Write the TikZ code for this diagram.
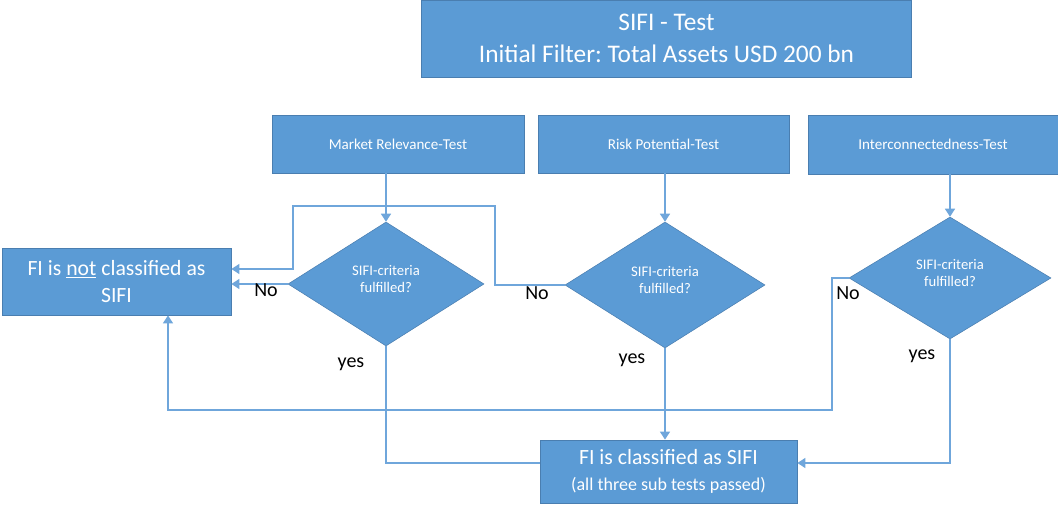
\documentclass[tikz,border=0pt]{standalone}
\usepackage{fontspec}
\setmainfont{Carlito}
\frenchspacing
\usetikzlibrary{arrows.meta,shapes.geometric}
\definecolor{boxfill}{HTML}{5B9BD5}
\definecolor{boxline}{HTML}{4A7EB0}
\definecolor{conn}{HTML}{6FA6DB}
\tikzset{
  bluebox/.style={draw=boxline, line width=0.6pt, fill=boxfill, text=white, align=center, inner sep=0pt},
  decision/.style={diamond, draw=boxline, line width=0.4pt, fill=boxfill, inner sep=0pt},
  dtext/.style={text=white, align=center, inner sep=0pt, font=\fontsize{11}{13}\selectfont},
  link/.style={draw=conn, line width=1.1pt},
  arr/.style={link, -{Triangle[length=6pt,width=7.5pt]}},
  lbl/.style={text=black, font=\fontsize{15}{17}\selectfont, inner sep=0pt}
}
\begin{document}
\begin{tikzpicture}[x=0.75pt,y=-0.75pt]
\useasboundingbox (0,0) rectangle (1058,505);
% boxes
\node[bluebox, minimum width=367.5pt, minimum height=57.75pt, font=\fontsize{19}{24}\selectfont] (top) at (666.5,38.5) {SIFI - Test\\Initial Filter: Total Assets USD 200 bn};
\node[bluebox, minimum width=189pt, minimum height=43.5pt, font=\fontsize{11.3}{13}\selectfont] (t1) at (398,144) {Market Relevance-Test};
\node[bluebox, minimum width=188.25pt, minimum height=43.5pt, font=\fontsize{11.3}{13}\selectfont] (t2) at (663.5,144) {Risk Potential-Test};
\node[bluebox, minimum width=187.5pt, minimum height=44.25pt, font=\fontsize{11.3}{13}\selectfont] (t3) at (933,144.5) {Interconnectedness-Test};
\node[bluebox, minimum width=171.75pt, minimum height=50.25pt, font=\fontsize{16.3}{20.5}\selectfont] (nots) at (116.5,281.5) {FI is \underline{not} classified as\\SIFI};
\node[bluebox, minimum width=192.75pt, minimum height=47.25pt, font=\fontsize{16.3}{19.5}\selectfont] (yess) at (668.5,471.5) {FI is classified as SIFI\\{\fontsize{13.5}{15}\selectfont (all three sub tests passed)}};
% decisions
\node[decision, minimum width=147pt, minimum height=93pt] (d1) at (386,284) {};
\node[decision, minimum width=150pt, minimum height=94.5pt] (d2) at (665,285) {};
\node[decision, minimum width=151.5pt, minimum height=91.5pt] (d3) at (950,278) {};
\node[dtext] (d1t) at ([yshift=3.75pt]d1.center) {SIFI-criteria\\fulfilled?};
\node[dtext] (d2t) at ([yshift=3.75pt]d2.center) {SIFI-criteria\\fulfilled?};
\node[dtext] (d3t) at ([yshift=3.75pt]d3.center) {SIFI-criteria\\fulfilled?};
% helper coordinates
\coordinate (c2a) at (495,285);
\coordinate (c2b) at (495,206);
\coordinate (c2c) at (293,206);
\coordinate (c2d) at (293,269);
\coordinate (c3a) at (832,278);
\coordinate (c3b) at (832,410);
\coordinate (c3c) at (168,410);
\coordinate (c1a) at (386,463);
\coordinate (c4a) at (950,463);
% connectors
\draw[arr] (t1.south -| d1.north) -- (d1.north);
\draw[arr] (t2.south -| d2.north) -- (d2.north);
\draw[arr] (t3.south -| d3.north) -- (d3.north);
\draw[arr] (d1.west) -- (d1.west -| nots.east);
\draw[arr] (d2.west) -- (c2a) -- (c2b) -- (c2c) -- (c2d) -- (c2d -| nots.east);
\draw[arr] (d3.west) -- (c3a) -- (c3b) -- (c3c) -- (c3c |- nots.south);
\draw[link] (d1.south) -- (c1a) -- (c1a -| yess.west);
\draw[arr] (d2.south) -- (d2.south |- yess.north);
\draw[arr] (d3.south) -- (c4a) -- (c4a -| yess.east);
% labels
\node[lbl] (no1) at (266,290) {No};
\node[lbl] (no2) at (537,293) {No};
\node[lbl] (no3) at (848,293) {No};
\node[lbl] (y1) at (351,364) {yes};
\node[lbl] (y2) at (632,360) {yes};
\node[lbl] (y3) at (922,356) {yes};
\end{tikzpicture}
\end{document}
